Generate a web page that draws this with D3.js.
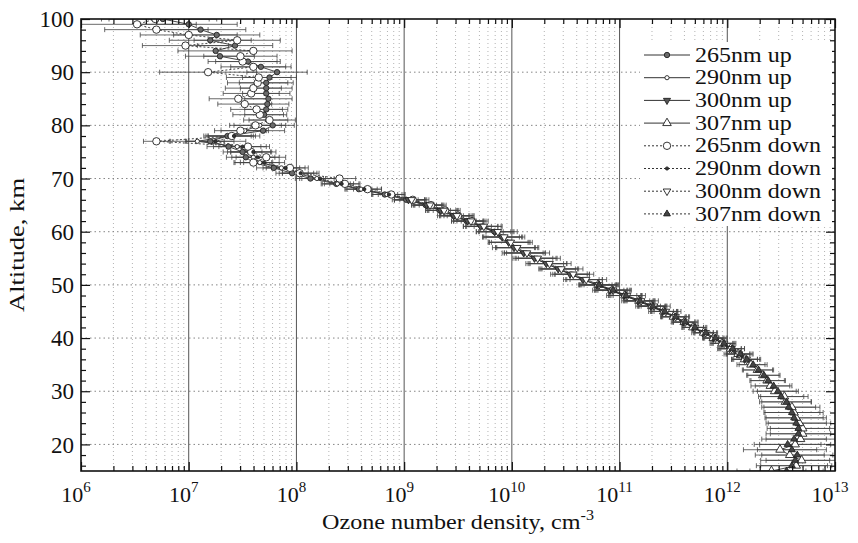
<!DOCTYPE html>
<html>
<head>
<meta charset="utf-8">
<script src="https://cdn.jsdelivr.net/npm/d3@7"></script>
<style>
  body { margin: 0; background: #fff; }
  svg text { font-family: "Liberation Serif", "Times New Roman", serif; }
</style>
</head>
<body>
<div id="chart"></div>
<script>
// ozone profile chart, values are log10 of number density (cm^-3)

const series_names = ["265nm up", "290nm up", "300nm up", "307nm up",
                      "265nm down", "290nm down", "300nm down", "307nm down"];

// lowest altitude (km) of each series, one point per km above it
const start_alt = [60, 45, 36, 15, 62, 45, 36, 15];

const log265up = [9.84, 9.73, 9.58, 9.46, 9.33, 9.20, 9.02, 8.82, 8.58, 8.37,
    8.13, 7.96, 7.79, 7.60, 7.53, 7.50, 7.37, 7.20, 7.36, 7.69,
    7.78, 7.74, 7.70, 7.72, 7.73, 7.74, 7.72, 7.72, 7.72, 7.75,
    7.82, 7.67, 7.55, 7.29, 7.25, 7.43, 7.20, 7.26, 7.11, 7.00, 6.76];
const err265up = [0.08, 0.08, 0.09, 0.09, 0.10, 0.10, 0.11, 0.12, 0.12, 0.13,
    0.14, 0.15, 0.16, 0.17, 0.18, 0.18, 0.20, 0.22, 0.22, 0.20,
    0.20, 0.18, 0.18, 0.20, 0.20, 0.22, 0.22, 0.24, 0.25, 0.25,
    0.28, 0.28, 0.30, 0.32, 0.35, 0.35, 0.38, 0.40, 0.42, 0.45, 0.50];

const log290up = [11.40, 11.28, 11.17, 11.04, 10.92, 10.79, 10.66, 10.55, 10.43, 10.32,
    10.21, 10.11, 10.03, 9.97, 9.90, 9.83, 9.71, 9.59, 9.48, 9.35,
    9.21, 9.05, 8.84, 8.60, 8.38, 8.19, 8.00, 7.86, 7.66, 7.60,
    7.56, 7.45, 7.08, 7.38, 7.52, 7.66];
const err290up = [0.10, 0.10, 0.11, 0.12, 0.12, 0.14, 0.15, 0.15, 0.16, 0.16,
    0.17, 0.18, 0.18, 0.18, 0.17, 0.16, 0.16, 0.15, 0.15, 0.15,
    0.14, 0.14, 0.14, 0.15, 0.15, 0.16, 0.16, 0.17, 0.18, 0.20,
    0.20, 0.22, 0.25, 0.22, 0.22, 0.24];

const log300up = [12.16, 12.09, 12.02, 11.95, 11.87, 11.77, 11.68, 11.59, 11.50, 11.40,
    11.29, 11.17, 11.04, 10.91, 10.79, 10.66, 10.54, 10.43, 10.32, 10.21,
    10.11, 10.02, 9.97, 9.91, 9.84, 9.71, 9.59, 9.46, 9.34, 9.21, 9.04];
const err300up = [0.12, 0.12, 0.11, 0.11, 0.10, 0.10, 0.10, 0.11, 0.12, 0.13,
    0.14, 0.15, 0.16, 0.16, 0.17, 0.18, 0.18, 0.18, 0.19, 0.20,
    0.20, 0.20, 0.19, 0.18, 0.17, 0.16, 0.15, 0.15, 0.14, 0.14, 0.15];

const log307up = [12.41, 12.64, 12.69, 12.58, 12.49, 12.63, 12.68, 12.70, 12.70, 12.67,
    12.64, 12.62, 12.60, 12.54, 12.53, 12.44, 12.40, 12.37, 12.33, 12.28,
    12.22, 12.16, 12.10, 12.03, 11.95, 11.87, 11.78, 11.68, 11.60, 11.50,
    11.41, 11.30, 11.18, 11.05, 10.93, 10.80];
const err307up = [0.32, 0.33, 0.33, 0.32, 0.34, 0.33, 0.32, 0.30, 0.30, 0.29,
    0.28, 0.27, 0.26, 0.24, 0.22, 0.20, 0.18, 0.16, 0.15, 0.14,
    0.13, 0.12, 0.11, 0.10, 0.10, 0.09, 0.09, 0.10, 0.10, 0.11,
    0.12, 0.13, 0.14, 0.15, 0.16, 0.17];

const log265down = [9.63, 9.50, 9.38, 9.25, 9.08, 8.88, 8.66, 8.45, 8.40, 8.03,
    7.94, 7.60, 7.72, 7.58, 7.55, 6.70, 7.40, 7.48, 7.62, 7.75,
    7.66, 7.63, 7.52, 7.46, 7.58, 7.60, 7.64, 7.65, 7.18, 7.60,
    7.50, 7.48, 7.60, 6.97, 7.45, 7.00, 6.70, 6.52, 6.69];
const err265down = [0.10, 0.10, 0.11, 0.11, 0.12, 0.12, 0.13, 0.14, 0.15, 0.16,
    0.17, 0.18, 0.18, 0.19, 0.20, 0.12, 0.22, 0.24, 0.24, 0.24,
    0.25, 0.24, 0.25, 0.27, 0.26, 0.26, 0.28, 0.30, 0.45, 0.30,
    0.32, 0.34, 0.36, 0.40, 0.40, 0.45, 0.48, 0.55, 0.50];

const log290down = [11.43, 11.31, 11.19, 11.07, 10.93, 10.82, 10.69, 10.56, 10.45, 10.34,
    10.24, 10.13, 10.05, 9.99, 9.93, 9.86, 9.74, 9.61, 9.49, 9.36,
    9.23, 9.06, 8.86, 8.63, 8.42, 8.22, 8.04, 7.90, 7.70, 7.64,
    7.60, 7.50, 7.25, 7.42];
const err290down = [0.11, 0.11, 0.12, 0.13, 0.14, 0.15, 0.15, 0.16, 0.17, 0.17,
    0.18, 0.18, 0.19, 0.18, 0.17, 0.16, 0.16, 0.15, 0.15, 0.14,
    0.14, 0.15, 0.15, 0.16, 0.16, 0.17, 0.17, 0.18, 0.19, 0.20,
    0.21, 0.22, 0.28, 0.24];

const log300down = [12.18, 12.11, 12.04, 11.97, 11.89, 11.80, 11.70, 11.61, 11.52, 11.43,
    11.32, 11.20, 11.07, 10.94, 10.81, 10.69, 10.57, 10.46, 10.35, 10.24,
    10.14, 10.05, 9.99, 9.93, 9.87, 9.74, 9.62, 9.49, 9.37, 9.24, 9.07];
const err300down = [0.13, 0.12, 0.12, 0.11, 0.11, 0.11, 0.11, 0.12, 0.13, 0.14,
    0.15, 0.16, 0.17, 0.17, 0.18, 0.19, 0.19, 0.20, 0.20, 0.21,
    0.21, 0.20, 0.20, 0.19, 0.18, 0.17, 0.16, 0.16, 0.15, 0.15, 0.16];

const log307down = [12.55, 12.60, 12.63, 12.65, 12.60, 12.56, 12.62, 12.66, 12.66, 12.64,
    12.62, 12.60, 12.57, 12.55, 12.50, 12.47, 12.43, 12.38, 12.34, 12.29,
    12.24, 12.18, 12.12, 12.05, 11.97, 11.89, 11.80, 11.70, 11.61, 11.52,
    11.42, 11.31, 11.19, 11.06, 10.94, 10.81];
const err307down = [0.34, 0.33, 0.32, 0.33, 0.32, 0.31, 0.30, 0.30, 0.29, 0.28,
    0.27, 0.26, 0.25, 0.23, 0.21, 0.19, 0.17, 0.16, 0.15, 0.14,
    0.13, 0.12, 0.12, 0.11, 0.10, 0.10, 0.10, 0.10, 0.11, 0.12,
    0.12, 0.13, 0.14, 0.15, 0.16, 0.17];

const series_logs = [log265up, log290up, log300up, log307up,
                     log265down, log290down, log300down, log307down];
const series_errs = [err265up, err290up, err300up, err307up,
                     err265down, err290down, err300down, err307down];

const x_exponents = [6, 7, 8, 9, 10, 11, 12, 13];
const y_labels = [20, 30, 40, 50, 60, 70, 80, 90, 100];

// marker look per series
const styles = [
    { shape: "circle", r: 2.7, fill: "#6a6a6a", dash: null },
    { shape: "circle", r: 2.1, fill: "#fff", dash: null },
    { shape: "tridown", r: 2.9, fill: "#555", dash: null },
    { shape: "triup", r: 3.5, fill: "#fff", dash: null },
    { shape: "circle", r: 3.7, fill: "#fff", dash: "2,2" },
    { shape: "circle", r: 1.6, fill: "#333", dash: "2,2" },
    { shape: "tridown", r: 3.1, fill: "#fff", dash: "2,2" },
    { shape: "triup", r: 2.8, fill: "#444", dash: "2,2" }
];

const serif = "Liberation Serif";
const width = 858, height = 543;
const margin = { left: 81, right: 23, top: 19, bottom: 72 };
const plot_w = width - margin.left - margin.right;
const plot_h = height - margin.top - margin.bottom;

const svg = d3.select("#chart").append("svg")
    .attr("width", width).attr("height", height);

const xScale = d3.scaleLog().domain([1e6, 1e13]).range([0, plot_w]);
const yScale = d3.scaleLinear().domain([15, 100]).range([plot_h, 0]);

const g = svg.append("g").attr("transform", `translate(${margin.left},${margin.top})`);

// minor values for log axis
let minor_x = [];
x_exponents.slice(0, -1).forEach(function (e) {
    for (let m = 2; m <= 9; m++) minor_x.push(m * Math.pow(10, e));
});
const decades = x_exponents.map(e => Math.pow(10, e));
const minor_y = d3.range(16, 100, 2).filter(v => v % 10 != 0);

// grid
const grid = g.append("g");
grid.selectAll(".gminor").data(minor_x).enter().append("line")
    .attr("x1", d => xScale(d)).attr("x2", d => xScale(d))
    .attr("y1", 0).attr("y2", plot_h)
    .attr("stroke", "#a0a0a0").attr("stroke-width", 0.8).attr("stroke-dasharray", "1,3");
grid.selectAll(".gmajor").data(decades.slice(1, -1)).enter().append("line")
    .attr("x1", d => xScale(d)).attr("x2", d => xScale(d))
    .attr("y1", 0).attr("y2", plot_h)
    .attr("stroke", "#555").attr("stroke-width", 1);
grid.selectAll(".gy").data(y_labels.slice(0, -1)).enter().append("line")
    .attr("x1", 0).attr("x2", plot_w)
    .attr("y1", d => yScale(d)).attr("y2", d => yScale(d))
    .attr("stroke", "#777").attr("stroke-width", 0.9).attr("stroke-dasharray", "1.5,3");

// data
svg.append("clipPath").attr("id", "clip").append("rect")
    .attr("width", plot_w).attr("height", plot_h);
const data_g = g.append("g").attr("clip-path", "url(#clip)");

const tri = d3.symbol().type(d3.symbolTriangle);

function drawMarker(sel, st) {
    if (st.shape == "circle") {
        sel.append("circle").attr("r", st.r);
    } else {
        let size = st.r * st.r * 2.6;
        sel.append("path").attr("d", tri.size(size)())
            .attr("transform", st.shape == "tridown" ? "rotate(180)" : null);
    }
    sel.selectAll("circle,path")
        .attr("fill", st.fill).attr("stroke", "#222").attr("stroke-width", 0.9);
}

series_logs.forEach(function (logs, si) {
    let st = styles[si];
    let pts = logs.map(function (v, i) {
        return { alt: start_alt[si] + i, n: Math.pow(10, v), lo: Math.pow(10, v - series_errs[si][i]), hi: Math.pow(10, v + series_errs[si][i]) };
    });
    let sg = data_g.append("g");
    // error bars
    let eb = sg.selectAll(".eb").data(pts).enter().append("g");
    eb.append("line")
        .attr("x1", d => xScale(d.lo)).attr("x2", d => xScale(d.hi))
        .attr("y1", d => yScale(d.alt)).attr("y2", d => yScale(d.alt))
        .attr("stroke", "#444").attr("stroke-width", 0.8);
    eb.append("line")
        .attr("x1", d => xScale(d.lo)).attr("x2", d => xScale(d.lo))
        .attr("y1", d => yScale(d.alt) - 2.5).attr("y2", d => yScale(d.alt) + 2.5)
        .attr("stroke", "#444").attr("stroke-width", 0.8);
    eb.append("line")
        .attr("x1", d => xScale(d.hi)).attr("x2", d => xScale(d.hi))
        .attr("y1", d => yScale(d.alt) - 2.5).attr("y2", d => yScale(d.alt) + 2.5)
        .attr("stroke", "#444").attr("stroke-width", 0.8);
    // profile line
    sg.append("path").datum(pts)
        .attr("d", d3.line().x(d => xScale(d.n)).y(d => yScale(d.alt)))
        .attr("fill", "none").attr("stroke", "#333").attr("stroke-width", 0.9)
        .attr("stroke-dasharray", st.dash);
});
series_logs.forEach(function (logs, si) {
    let st = styles[si];
    let mk = data_g.append("g").selectAll(".mk").data(logs).enter().append("g")
        .attr("transform", (v, i) => `translate(${xScale(Math.pow(10, v))},${yScale(start_alt[si] + i)})`);
    drawMarker(mk, st);
});

// axes: ticks point inward on all four sides
function styleAxis(a) {
    a.select(".domain").remove();
    a.selectAll("line").attr("stroke", "#111").attr("stroke-width", 1.2);
}
g.append("g").attr("transform", `translate(0,${plot_h})`)
    .call(d3.axisBottom(xScale).tickValues(decades).tickSizeInner(-9).tickSizeOuter(0).tickFormat(""))
    .call(styleAxis);
g.append("g").attr("transform", `translate(0,${plot_h})`)
    .call(d3.axisBottom(xScale).tickValues(minor_x).tickSizeInner(-5).tickSizeOuter(0).tickFormat(""))
    .call(styleAxis);
g.append("g")
    .call(d3.axisTop(xScale).tickValues(decades).tickSizeInner(-9).tickSizeOuter(0).tickFormat(""))
    .call(styleAxis);
g.append("g")
    .call(d3.axisTop(xScale).tickValues(minor_x).tickSizeInner(-5).tickSizeOuter(0).tickFormat(""))
    .call(styleAxis);

const yAxis = g.append("g")
    .call(d3.axisLeft(yScale).tickValues(y_labels).tickSizeInner(-9).tickSizeOuter(0).tickPadding(7).tickFormat(d3.format("d")))
    .call(styleAxis);
yAxis.attr("font-family", serif);
yAxis.selectAll("text").attr("font-size", 23).attr("fill", "#111")
    .attr("font-family", serif).attr("dy", "0.33em");
g.append("g")
    .call(d3.axisLeft(yScale).tickValues(minor_y).tickSizeInner(-5).tickSizeOuter(0).tickFormat(""))
    .call(styleAxis);
g.append("g").attr("transform", `translate(${plot_w},0)`)
    .call(d3.axisRight(yScale).tickValues(y_labels).tickSizeInner(-9).tickSizeOuter(0).tickFormat(""))
    .call(styleAxis);
g.append("g").attr("transform", `translate(${plot_w},0)`)
    .call(d3.axisRight(yScale).tickValues(minor_y).tickSizeInner(-5).tickSizeOuter(0).tickFormat(""))
    .call(styleAxis);

// frame
g.append("rect").attr("width", plot_w).attr("height", plot_h)
    .attr("fill", "none").attr("stroke", "#111").attr("stroke-width", 1.6);

// x tick labels as 10 with superscript
const xl = g.append("g").selectAll(".xl").data(x_exponents).enter().append("text")
    .attr("x", e => xScale(Math.pow(10, e)) - 5).attr("y", plot_h + 31)
    .attr("text-anchor", "middle").attr("font-family", serif)
    .attr("font-size", 22).attr("fill", "#111");
xl.append("tspan").text("10");
xl.append("tspan").attr("dy", -10).attr("font-size", 15).text(e => e);

// axis titles, stretched to the width of the scanned lettering
const xtitle = svg.append("text")
    .attr("x", margin.left + plot_w / 2).attr("y", 529)
    .attr("text-anchor", "middle").attr("font-family", serif)
    .attr("font-size", 21).attr("fill", "#111");
xtitle.append("tspan").text("Ozone number density, cm");
xtitle.append("tspan").attr("dy", -9).attr("font-size", 14).text("-3");
xtitle.attr("textLength", 272).attr("lengthAdjust", "spacingAndGlyphs");

svg.append("text")
    .attr("transform", `translate(24,${margin.top + plot_h / 2}) rotate(-90)`)
    .attr("text-anchor", "middle").attr("font-family", serif)
    .attr("font-size", 22).attr("fill", "#111")
    .attr("textLength", 134).attr("lengthAdjust", "spacingAndGlyphs")
    .text("Altitude, km");

// legend; the scanned lettering is wide, so stretch it a little
const leg = svg.append("g").attr("transform", "translate(640,42)");
leg.append("rect").attr("x", 0).attr("y", 0).attr("width", 192).attr("height", 184)
    .attr("fill", "#fff");
series_names.forEach(function (name, i) {
    let row = leg.append("g").attr("transform", `translate(0,${13 + i * 22.7})`);
    row.append("line").attr("x1", 4).attr("x2", 50).attr("y1", 0).attr("y2", 0)
        .attr("stroke", "#333").attr("stroke-width", 1)
        .attr("stroke-dasharray", styles[i].dash);
    let mk = row.append("g").attr("transform", "translate(27,0)");
    drawMarker(mk, styles[i]);
    let t = row.append("text").attr("x", 55).attr("y", 0).attr("dy", "0.33em")
        .attr("font-family", serif).attr("font-size", 20).attr("fill", "#111").text(name);
    let len = t.node().getComputedTextLength();
    t.attr("textLength", len * 1.2).attr("lengthAdjust", "spacingAndGlyphs");
});
</script>
</body>
</html>
